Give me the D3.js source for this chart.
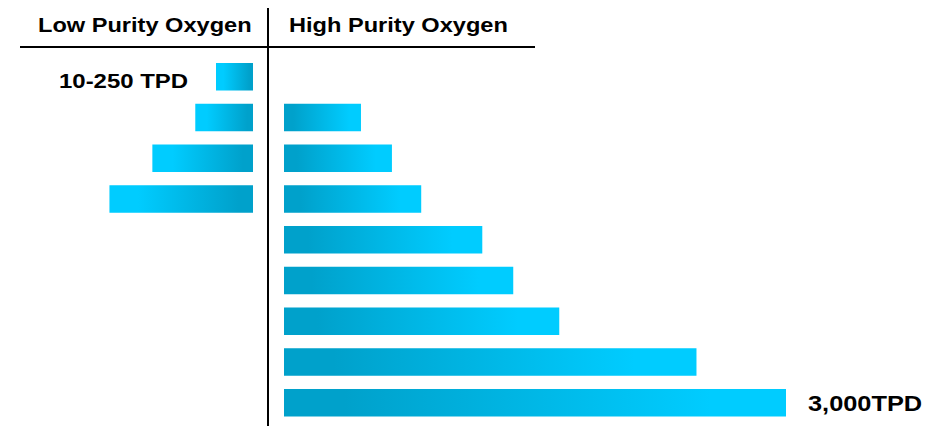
<!DOCTYPE html>
<html>
<head>
<meta charset="utf-8">
<script src="https://cdn.jsdelivr.net/npm/d3@7"></script>
<style>
  html, body { margin: 0; padding: 0; background: #fff; }
  svg { display: block; }
  text { font-family: "Liberation Sans", Arial, sans-serif; font-weight: bold; fill: #000; }
</style>
</head>
<body>
<svg id="chart" width="927" height="426"></svg>
<script>
// Plant capacity classes, one row each (TPD = tons per day)
const rows = [0, 1, 2, 3, 4, 5, 6, 7, 8];
const lowPurity  = [250, 390, 680, 970, null, null, null, null, null];
const highPurity = [null, 460, 645, 820, 1185, 1370, 1645, 2465, 3000];
const panelTitles = ["Low Purity Oxygen", "High Purity Oxygen"];
const lowLabel = "10-250 TPD";
const highLabel = "3,000TPD";

const svg = d3.select("#chart");
const stretch = 1.18; // wide letterforms of the header type

const y = d3.scaleBand().domain(rows).range([63, 416.5]).paddingInner(0.325).paddingOuter(0).align(0);
const divider = 268;
// Low purity grows leftwards from the divider, high purity rightwards
const xLow = d3.scaleLinear().domain([0, 1000]).range([253, 105]);
const xHigh = d3.scaleLinear().domain([0, 3000]).range([284, 786]);

const dark = "#00A1CB", light = "#00CCFF";
const defs = svg.append("defs");
function grad(id, stops) {
  const g = defs.append("linearGradient").attr("id", id)
    .attr("x1", 0).attr("y1", 0).attr("x2", 1).attr("y2", 0);
  stops.forEach(([o, c]) => g.append("stop").attr("offset", o).attr("stop-color", c));
}
grad("gLow", [[0, light], [0.2, light], [0.9, dark], [1, dark]]);
grad("gHigh", [[0, dark], [0.12, dark], [0.85, light], [1, light]]);

// Bars
svg.append("g").selectAll("rect")
  .data(rows.filter(i => lowPurity[i] != null))
  .join("rect")
  .attr("x", i => xLow(lowPurity[i]))
  .attr("y", i => y(i))
  .attr("width", i => xLow(0) - xLow(lowPurity[i]))
  .attr("height", y.bandwidth())
  .attr("fill", "url(#gLow)");

svg.append("g").selectAll("rect")
  .data(rows.filter(i => highPurity[i] != null))
  .join("rect")
  .attr("x", xHigh(0))
  .attr("y", i => y(i))
  .attr("width", i => xHigh(highPurity[i]) - xHigh(0))
  .attr("height", y.bandwidth())
  .attr("fill", "url(#gHigh)");

// Header rule and divider
svg.append("line").attr("x1", 20).attr("x2", 535).attr("y1", 47).attr("y2", 47)
  .attr("stroke", "#000").attr("stroke-width", 2);
svg.append("line").attr("x1", divider).attr("x2", divider).attr("y1", 8).attr("y2", 426)
  .attr("stroke", "#000").attr("stroke-width", 2);

function label(txt, x, yy, size) {
  svg.append("g").attr("transform", `translate(${x},${yy}) scale(${stretch},1)`)
    .append("text").attr("font-size", size).text(txt);
}
label(panelTitles[0], 38, 31.5, 20);
label(panelTitles[1], 289, 31.5, 20);

// Range labels beside the smallest and largest bars
const first = rows.find(i => lowPurity[i] != null);
const last = rows[rows.length - 1];
label(lowLabel, 59, y(first) + y.bandwidth() / 2 + 11, 20.3);
label(highLabel, xHigh(highPurity[last]) + 22, y(last) + y.bandwidth() / 2 + 8, 21.5);
</script>
</body>
</html>
